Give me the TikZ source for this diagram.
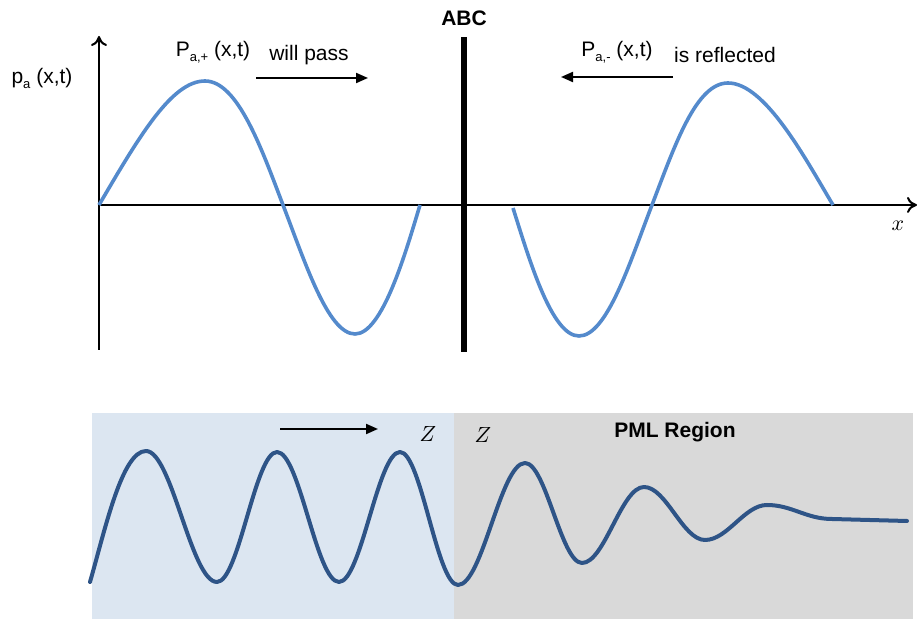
\documentclass[tikz,border=0pt]{standalone}
\usepackage{fontspec}
\setmainfont{Liberation Sans}
\usetikzlibrary{arrows.meta}
\definecolor{wavelight}{RGB}{84,138,204}
\definecolor{wavedark}{RGB}{46,84,135}
\definecolor{bgblue}{RGB}{220,230,241}
\definecolor{bggray}{RGB}{217,217,217}
\newcommand{\subtxt}[1]{\raisebox{-0.45ex}{\fontsize{6.5}{7}\selectfont #1}}
\tikzset{
  lbl/.style={inner sep=0pt, font=\fontsize{10.5}{12}\selectfont},
  blbl/.style={inner sep=0pt, font=\fontsize{10.5}{12}\selectfont\bfseries},
  axis/.style={line width=1pt, -{To[length=5pt,width=8pt]}},
  dirarrow/.style={line width=1pt, -{Triangle[length=6pt,width=5pt]}},
  upwave/.style={wavelight, line width=1.8pt},
  lowwave/.style={wavedark, line width=2pt, line cap=round, line join=round},
}
\begin{document}
\begin{tikzpicture}[x=0.5pt,y=-0.5pt]
\useasboundingbox (0,0) rectangle (918,619);
% ---------- upper plot ----------
\coordinate (yb) at (99,350);
\coordinate (yt) at (99,36);
\coordinate (xl) at (99,205);
\coordinate (xr) at (917,205);
\draw[axis] (yb) -- (yt);
\draw[axis] (xl) -- (xr);
\node[lbl] (xlab) at (898,226) {$x$};
\node[lbl] (pa) at (42,78) {p\subtxt{a} (x,t)};
% ABC boundary
\coordinate (abcb) at (464,352);
\coordinate (abct) at (464,37);
\draw[line width=2.6pt] (abcb) -- (abct);
\node[blbl] (abc) at (464,18) {ABC};
% left wave
\draw[upwave] (99,205) .. controls (140,135) and (172,81) .. (205,81)
  .. controls (238,81) and (262,150) .. (283,205)
  .. controls (305,262) and (328,334) .. (355,334)
  .. controls (382,334) and (405,255) .. (420,205);
% right wave
\draw[upwave] (513,208) .. controls (530,262) and (552,336) .. (579,336)
  .. controls (607,336) and (630,262) .. (652,205)
  .. controls (675,145) and (696,83) .. (728,83)
  .. controls (765,83) and (805,158) .. (833,205);
% labels and direction arrows
\node[lbl] (pplus) at (213,52) {P\subtxt{a,+} (x,t)};
\node[lbl] (pass) at (309,55) {will pass};
\coordinate (pa1) at (256,78);
\coordinate (pa2) at (368,78);
\draw[dirarrow] (pa1) -- (pa2);
\node[lbl] (pminus) at (617,52) {P\subtxt{a,-} (x,t)};
\node[lbl] (refl) at (725,55) {is reflected};
\coordinate (ra1) at (673,77);
\coordinate (ra2) at (561,77);
\draw[dirarrow] (ra1) -- (ra2);
% ---------- lower plot ----------
\fill[bgblue] (92,413) rectangle (454,619);
\fill[bggray] (454,413) rectangle (913,619);
\coordinate (za1) at (280,429);
\coordinate (za2) at (378,429);
\draw[dirarrow] (za1) -- (za2);
\node[lbl] (z1) at (428,434) {$Z$};
\node[lbl] (z2) at (483,435) {$Z$};
\node[blbl] (pml) at (675,432) {PML Region};
\draw[lowwave] (90,582) .. controls (105,530) and (122,451) .. (146,451)
  .. controls (171.8,451) and (191.2,582) .. (217,582)
  .. controls (238.8,582) and (255.2,452) .. (277,452)
  .. controls (299.6,452) and (316.4,582) .. (339,582)
  .. controls (361.2,582) and (377.8,452) .. (400,452)
  .. controls (421.1,452) and (436.9,585) .. (458,585)
  .. controls (482.4,585) and (500.6,463) .. (525,463)
  .. controls (545.7,463) and (561.3,563) .. (582,563)
  .. controls (604.6,563) and (621.4,487) .. (644,487)
  .. controls (666.2,487) and (682.8,540) .. (705,540)
  .. controls (727.6,540) and (744.4,505) .. (767,505)
  .. controls (792,505) and (806,519) .. (832,519)
  -- (907,521);
\end{tikzpicture}
\end{document}
